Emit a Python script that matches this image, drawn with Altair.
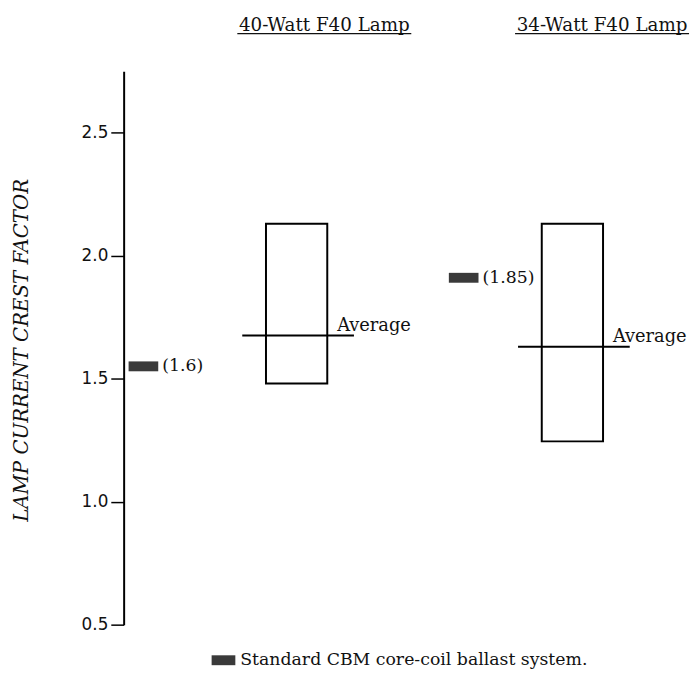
import altair as alt
import pandas as pd

# ---- data ----
lamps = ["40-Watt F40 Lamp", "34-Watt F40 Lamp"]
box_low = [1.48, 1.245]
box_high = [2.13, 2.13]
averages = [1.675, 1.63]
standard_values = [1.55, 1.91]
standard_labels = ["(1.6)", "(1.85)"]
y_ticks = [0.5, 1.0, 1.5, 2.0, 2.5]
legend_text = "Standard CBM core-coil ballast system."
y_title = "LAMP CURRENT CREST FACTOR"

# ---- layout (plot pixel units along x) ----
W, H = 575, 560
group_start = [0, 279]          # left origin of each lamp group
swatch_center = [20, 344]       # absolute centre of the standard swatches
box_x0, box_x1 = 144, 206
avg_x0, avg_x1 = 120, 233
header_center = [203, 484]
header_half = 88

rows = []
for i, lamp in enumerate(lamps):
    g = group_start[i]
    rows.append(dict(
        lamp=lamp,
        low=box_low[i], high=box_high[i], avg=averages[i],
        std=standard_values[i], std_label=standard_labels[i],
        bx0=g + box_x0, bx1=g + box_x1,
        ax0=g + avg_x0, ax1=g + avg_x1,
        sx=swatch_center[i],
        hx=header_center[i],
    ))
df = pd.DataFrame(rows)

xs = alt.Scale(domain=[0, W], range=[0, W])
ys = alt.Scale(domain=[0.5, 2.75], nice=False, zero=False)
SERIF = "DejaVu Serif"
INK = "#111"

base = alt.Chart(df)

y_axis = alt.Axis(
    values=y_ticks, format=".1f", grid=False,
    domainColor="black", domainWidth=2,
    tickColor="black", tickWidth=1.5, tickSize=13,
    labelFont="DejaVu Sans", labelFontSize=17, labelColor=INK,
    labelPadding=3,
    title=y_title, titleFont=SERIF, titleFontStyle="italic",
    titleFontWeight="normal", titleFontSize=20, titleColor=INK,
    titleAngle=-90, titleX=-103, titleY=282,
    titleAlign="center", titleBaseline="middle",
)

boxes = base.mark_rect(fill=None, stroke="black", strokeWidth=2).encode(
    x=alt.X("bx0:Q", scale=xs, axis=None),
    x2="bx1:Q",
    y=alt.Y("low:Q", scale=ys, axis=y_axis),
    y2="high:Q",
)

avg_rule = base.mark_rule(color="black", strokeWidth=2).encode(
    x=alt.X("ax0:Q", scale=xs, axis=None),
    x2="ax1:Q",
    y=alt.Y("avg:Q", scale=ys),
)

avg_text = base.mark_text(
    text="Average", align="left", baseline="alphabetic", dx=-17, dy=-5,
    font=SERIF, fontSize=18, color=INK,
).encode(
    x=alt.X("ax1:Q", scale=xs, axis=None),
    y=alt.Y("avg:Q", scale=ys),
)

swatch = base.mark_tick(
    orient="horizontal", size=30, thickness=10, color="#3a3a3a", opacity=1,
).encode(
    x=alt.X("sx:Q", scale=xs, axis=None),
    y=alt.Y("std:Q", scale=ys),
)

std_text = base.mark_text(
    align="left", baseline="middle", dx=19, font=SERIF, fontSize=17.5, color=INK,
).encode(
    x=alt.X("sx:Q", scale=xs, axis=None),
    y=alt.Y("std:Q", scale=ys),
    text="std_label:N",
)

headers = base.mark_text(
    baseline="alphabetic", align="center", font=SERIF, fontSize=18.5, color=INK,
).encode(
    x=alt.X("hx:Q", scale=xs, axis=None),
    y=alt.value(-41),
    text="lamp:N",
)

underline = base.mark_rule(color=INK, strokeWidth=1.2).encode(
    x=alt.X("u0:Q", scale=xs, axis=None),
    x2="u1:Q",
    y=alt.value(-38),
).transform_calculate(
    u0=f"datum.hx - {header_half}", u1=f"datum.hx + {header_half}"
)

legend_df = pd.DataFrame({"t": [legend_text]})
legend_sw = alt.Chart(legend_df).mark_tick(
    orient="horizontal", size=24, thickness=10, color="#3a3a3a", opacity=1,
).encode(x=alt.value(101), y=alt.value(596))
legend_tx = alt.Chart(legend_df).mark_text(
    align="left", baseline="middle", font=SERIF, fontSize=17.5, color=INK,
).encode(x=alt.value(118), y=alt.value(596), text="t:N")

chart = alt.layer(
    boxes, avg_rule, avg_text, swatch, std_text, headers, underline,
    legend_sw, legend_tx,
).properties(
    width=W, height=H,
    background="white",
    autosize=alt.AutoSizeParams(type="none"),
    padding={"left": 117, "top": 60, "right": 0, "bottom": 42},
).configure_view(stroke=None)

chart.save("out.html", embed_options={"renderer": "svg", "actions": False})
